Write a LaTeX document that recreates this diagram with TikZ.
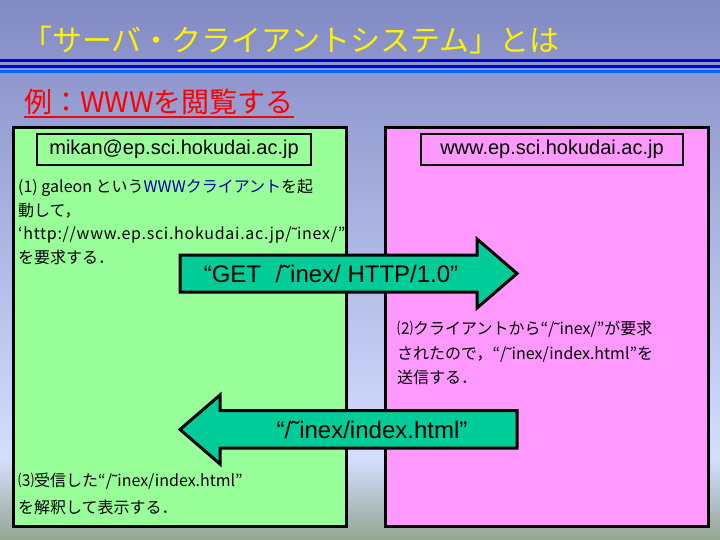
\documentclass[tikz,border=0pt]{standalone}
\usepackage{fontspec}
\setmainfont{Noto Sans CJK JP}
\newfontfamily\arialfont{Liberation Sans}
\usetikzlibrary{positioning}

\newcommand\tlde{{\arialfont ˜}}

\definecolor{bgtop}{RGB}{130,138,196}
\definecolor{bgmid}{RGB}{212,222,255}
\definecolor{bgbot}{RGB}{148,166,146}
\definecolor{clientgreen}{RGB}{153,255,153}
\definecolor{serverpink}{RGB}{255,153,255}
\definecolor{arrowgreen}{RGB}{0,204,153}
\definecolor{linkblue}{RGB}{0,0,160}
\definecolor{ruleblue}{RGB}{0,0,215}
\definecolor{rulelight}{RGB}{0,102,255}

\tikzset{
  hostbox/.style={draw=black,line width=3pt,outer sep=0pt,inner sep=0pt,anchor=north west},
  namebox/.style={draw=black,line width=2pt,inner sep=0pt,minimum height=31pt,
    font=\arialfont\fontsize{20}{20}\selectfont},
  msgarrow/.style={draw=black,line width=3pt,fill=arrowgreen,line join=miter},
  msglabel/.style={inner sep=0pt,font=\arialfont\fontsize{24}{24}\selectfont},
  memo/.style={anchor=north west,align=left,inner sep=0pt,font=\fontsize{16}{23.5}\selectfont}
}

\begin{document}
\begin{tikzpicture}[x=1pt,y=-1pt]
  \useasboundingbox (0,0) rectangle (720,540);
  % background
  \shade[top color=bgtop,bottom color=bgmid] (0,0) rectangle (720,458);
  \shade[top color=bgmid,bottom color=bgbot] (0,458) rectangle (720,540);

  % heading
  \node[anchor=base west,inner sep=0pt,text=yellow,font=\fontsize{30}{30}\selectfont]
    (title) at (22,52) {「サーバ・クライアントシステム」とは};
  \draw[ruleblue,line width=2.5pt] (0,60.5) -- (720,60.5);
  \draw[ruleblue,line width=2.7pt] (0,66.3) -- (720,66.3);
  \draw[rulelight,line width=3pt] (0,71.8) -- (720,71.8);

  \node[anchor=base west,inner sep=0pt,text=red,font=\fontsize{28}{28}\selectfont]
    (example) at (24,113) {例：WWWを閲覧する};
  \draw[red,line width=2pt] ([yshift=-4.5pt]example.base west) -- ([yshift=-4.5pt]example.base east);

  % the two hosts
  \node[hostbox,fill=clientgreen,minimum width=333pt,minimum height=399pt] (client) at (13.5,127.5) {};
  \node[hostbox,fill=serverpink,minimum width=322.5pt,minimum height=399pt] (server) at (385.5,127.5) {};

  \node[namebox,fill=clientgreen,minimum width=274pt] (clientname) at (174,149.5) {mikan@ep.sci.hokudai.ac.jp};
  \node[namebox,fill=serverpink,minimum width=262pt] (servername) at (552,149.5) {www.ep.sci.hokudai.ac.jp};

  \begin{scope}
    \clip (13.5,127.5) rectangle (346.5,526.5);
    \node[memo] (step1) at (18,179) {(1) galeon という\textcolor{linkblue}{WWWクライアント}を起\\動して，\\{\addfontfeature{LetterSpace=4.5}‘http://www.ep.sci.hokudai.ac.jp/\tlde inex/”}\\を要求する．};
  \end{scope}
  \node[memo,font=\fontsize{16}{24.5}\selectfont] (step2) at (397,321)
    {⑵クライアントから“/\tlde inex/”が要求\\されたので，“/\tlde inex/index.html”を\\送信する．};
  \node[memo,font=\fontsize{16}{27}\selectfont] (step3) at (18,473)
    {⑶受信した“/\tlde inex/index.html”\\を解釈して表示する．};

  % request and reply
  \filldraw[msgarrow] (180,255) -- (477,255) -- (477,239) -- (517,273.5) -- (477,308) -- (477,292) -- (180,292) -- cycle;
  \node[msglabel] (request) at (331,274) {“GET\hspace{0.6em}/˜inex/ HTTP/1.0”};

  \filldraw[msgarrow] (517,410.5) -- (220,410.5) -- (220,395) -- (180,429.5) -- (220,464) -- (220,448) -- (517,448) -- cycle;
  \node[msglabel] (reply) at (372,430) {“/˜inex/index.html”};
\end{tikzpicture}
\end{document}
